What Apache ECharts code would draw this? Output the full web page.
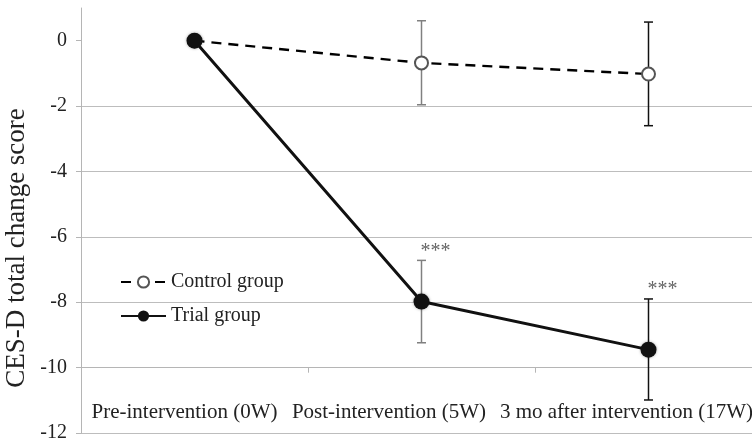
<!DOCTYPE html>
<html>
<head>
<meta charset="utf-8">
<script src="https://cdn.jsdelivr.net/npm/echarts@6/dist/echarts.min.js"></script>
<style>html,body{margin:0;padding:0;background:#fff;}#c{width:752px;height:439px;}</style>
</head>
<body>
<div id="c"></div>
<script>
var categories = ['Pre-intervention (0W)', 'Post-intervention (5W)', '3 mo after intervention (17W)'];
var controlMean = [0, -0.68, -1.02];
var controlLow = [null, -1.96, -2.60];
var controlHigh = [null, 0.61, 0.57];
var trialMean = [0, -7.98, -9.45];
var trialLow = [null, -9.24, -10.99];
var trialHigh = [null, -6.72, -7.90];
var starLabels = ['', '***', '***'];
var yTicks = [-12, -10, -8, -6, -4, -2, 0];

// styling / layout (not data)
var errColors = ['#000', '#808080', '#111'];
var labelShiftPad = [20, 65, 44];
var serif = '"Liberation Serif", "DejaVu Serif", serif';
var chart = echarts.init(document.getElementById('c'));

function errData(low, high) {
  var d = [];
  for (var i = 0; i < categories.length; i++) {
    if (low[i] !== null) d.push([i, low[i], high[i]]);
  }
  return d;
}

function renderErr(params, api) {
  var i = api.value(0);
  var p1 = api.coord([i, api.value(1)]);
  var p2 = api.coord([i, api.value(2)]);
  var col = errColors[i];
  var hw = 4.5;
  return {
    type: 'group',
    children: [
      {type: 'line', shape: {x1: p1[0], y1: p1[1], x2: p2[0], y2: p2[1]}, style: {stroke: col, lineWidth: 1.5}},
      {type: 'line', shape: {x1: p1[0] - hw, y1: p1[1], x2: p1[0] + hw, y2: p1[1]}, style: {stroke: col, lineWidth: 1.5}},
      {type: 'line', shape: {x1: p2[0] - hw, y1: p2[1], x2: p2[0] + hw, y2: p2[1]}, style: {stroke: col, lineWidth: 1.5}}
    ]
  };
}

function renderStars(params, api) {
  var i = api.value(0);
  var p = api.coord([i, api.value(2)]);
  return {
    type: 'text',
    x: p[0] - 1, y: p[1] - 9,
    style: {text: starLabels[i], fill: '#666', font: '20px ' + serif, textAlign: 'left', textVerticalAlign: 'middle'}
  };
}

var rich = {};
for (var k = 0; k < categories.length; k++) {
  rich['p' + k] = {fontFamily: serif, fontSize: 21, color: '#222', padding: [0, labelShiftPad[k], 0, 0]};
}

chart.setOption({
  animation: false,
  backgroundColor: '#fff',
  grid: {left: 81, top: 8, width: 681, height: 425, outerBoundsMode: 'none', containLabel: false},
  legend: {
    left: 115, top: 266, orient: 'vertical', itemWidth: 45, itemHeight: 14, itemGap: 12,
    textStyle: {fontFamily: serif, fontSize: 20, color: '#222', lineHeight: 22},
    data: ['Control group', 'Trial group']
  },
  xAxis: {
    type: 'category', data: categories, boundaryGap: true,
    offset: -65.3,
    axisLine: {onZero: false, lineStyle: {color: '#b5b5b5', width: 1}},
    axisTick: {show: true, length: 5, lineStyle: {color: '#b5b5b5'}},
    axisLabel: {
      margin: 34, interval: 0, hideOverlap: false,
      fontFamily: serif, fontSize: 21, color: '#222',
      formatter: function (v, idx) { return '{p' + idx + '|' + v + '}'; },
      rich: rich
    }
  },
  yAxis: {
    type: 'value', min: -12, max: 1, interval: 2,
    axisLine: {show: true, lineStyle: {color: '#b5b5b5', width: 1}},
    axisTick: {show: true, length: 5, customValues: yTicks, lineStyle: {color: '#b5b5b5'}},
    axisLabel: {margin: 14, fontFamily: serif, fontSize: 20, color: '#222', customValues: yTicks},
    splitLine: {show: true, showMaxLine: false, lineStyle: {color: '#bdbdbd', width: 1}}
  },
  graphic: [{
    type: 'text', x: 17, y: 248, rotation: Math.PI / 2,
    style: {text: 'CES-D total change score', font: '27px ' + serif, fill: '#222', textAlign: 'center', textVerticalAlign: 'middle'}
  }],
  series: [
    {type: 'custom', name: 'errC', renderItem: renderErr, data: errData(controlLow, controlHigh), z: 1, silent: true},
    {type: 'custom', name: 'errT', renderItem: renderErr, data: errData(trialLow, trialHigh), z: 1, silent: true},
    {type: 'custom', name: 'stars', renderItem: renderStars, data: errData(trialLow, trialHigh), z: 5, silent: true},
    {
      type: 'line', name: 'Control group', data: controlMean, z: 3,
      symbol: 'emptyCircle', symbolSize: 13, showAllSymbol: true,
      lineStyle: {color: '#000', width: 2.4, type: [10, 7]},
      itemStyle: {color: '#555', borderColor: '#555', borderWidth: 1.5}
    },
    {
      type: 'line', name: 'Trial group', data: trialMean, z: 4,
      symbol: 'circle', symbolSize: 16, showAllSymbol: true,
      lineStyle: {color: '#111', width: 3},
      itemStyle: {color: '#111', shadowBlur: 3, shadowColor: 'rgba(0,0,0,0.35)'}
    }
  ]
});
</script>
</body>
</html>
